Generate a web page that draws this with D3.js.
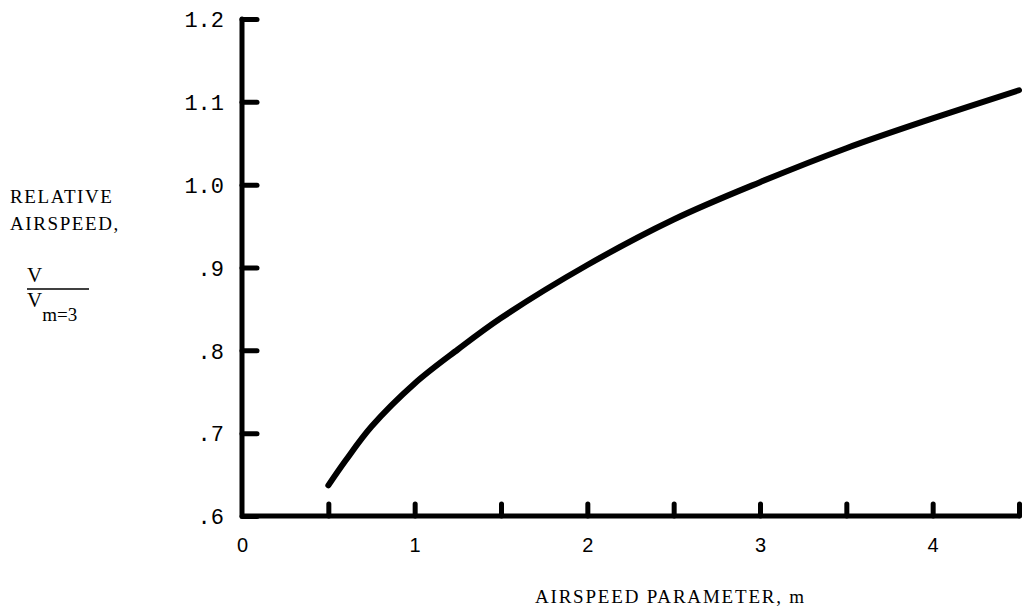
<!DOCTYPE html>
<html>
<head>
<meta charset="utf-8">
<script src="https://cdn.jsdelivr.net/npm/d3@7"></script>
<style>
  html, body { margin: 0; padding: 0; background: #fff; }
  svg { display: block; }
</style>
</head>
<body>
<svg id="chart" width="1031" height="612"></svg>
<script>
// ---- data ----
const airspeedParam = [0.5, 0.6, 0.75, 1.0, 1.25, 1.5, 2.0, 2.5, 3.0, 3.5, 4.0, 4.5];
const relativeAirspeed = [0.637, 0.667, 0.708, 0.760, 0.801, 0.839, 0.903, 0.958, 1.003, 1.044, 1.080, 1.114];
const yTickValues = [1.2, 1.1, 1.0, 0.9, 0.8, 0.7, 0.6];
const yTickLabels = ["1.2", "1.1", "1.0", ".9", ".8", ".7", ".6"];
const xTickValues = [0.5, 1.0, 1.5, 2.0, 2.5, 3.0, 3.5, 4.0, 4.5];
const xLabelValues = [0, 1, 2, 3, 4];
const xLabelTexts = ["0", "1", "2", "3", "4"];

const svg = d3.select("#chart");
const x = d3.scaleLinear().domain([0, 4.5]).range([242, 1019]);
const y = d3.scaleLinear().domain([0.6, 1.2]).range([516, 19]);

const mono = "'Liberation Mono', 'DejaVu Sans Mono', monospace";
const serif = "'Liberation Serif', 'DejaVu Serif', serif";
const sans = "'Liberation Sans', Arial, sans-serif";

// y axis
const yAxis = d3.axisLeft(y)
  .tickValues(yTickValues)
  .tickFormat((d, i) => yTickLabels[i])
  .tickSize(-15)
  .tickPadding(18);
const gy = svg.append("g").attr("transform", `translate(${x(0)},0)`).call(yAxis);
gy.select(".domain").remove();
gy.selectAll(".tick line").attr("stroke", "#000").attr("stroke-width", 5).attr("stroke-linecap", "round");
gy.selectAll(".tick text").attr("font-family", mono).attr("font-size", 22).attr("fill", "#000").attr("dy", "0.35em");

// x axis ticks (no labels)
const xAxis = d3.axisBottom(x)
  .tickValues(xTickValues)
  .tickFormat("")
  .tickSize(-12);
const gx = svg.append("g").attr("transform", `translate(0,${y(0.6)})`).call(xAxis);
gx.select(".domain").remove();
gx.selectAll(".tick line").attr("stroke", "#000").attr("stroke-width", 5).attr("stroke-linecap", "round");

// x labels
const xAxisLabels = d3.axisBottom(x)
  .tickValues(xLabelValues)
  .tickFormat((d, i) => xLabelTexts[i])
  .tickSize(0)
  .tickPadding(22);
const gxl = svg.append("g").attr("transform", `translate(0,${y(0.6)})`).call(xAxisLabels);
gxl.select(".domain").remove();
gxl.selectAll(".tick text").attr("font-family", sans).attr("font-size", 20).attr("fill", "#000");

// axis frame lines
svg.append("path")
  .attr("d", `M${x(0)},${y(1.2)} L${x(0)},${y(0.6)} L${x(4.5)},${y(0.6)}`)
  .attr("fill", "none").attr("stroke", "#000").attr("stroke-width", 5)
  .attr("stroke-linejoin", "round").attr("stroke-linecap", "round");

// curve
const pts = airspeedParam.map((m, i) => [m, relativeAirspeed[i]]);
const line = d3.line().x(d => x(d[0])).y(d => y(d[1])).curve(d3.curveCatmullRom.alpha(0.5));
svg.append("path")
  .datum(pts)
  .attr("d", line)
  .attr("fill", "none").attr("stroke", "#000").attr("stroke-width", 6)
  .attr("stroke-linecap", "round");

// y-axis title
const yt = svg.append("g").attr("font-family", serif).attr("font-size", 19).attr("fill", "#000");
yt.append("text").attr("x", 10).attr("y", 203).attr("letter-spacing", 1.6).text("RELATIVE");
yt.append("text").attr("x", 10).attr("y", 230).attr("letter-spacing", 1.6).text("AIRSPEED,");
yt.append("text").attr("x", 27).attr("y", 282).attr("font-size", 21).text("V");
svg.append("line").attr("x1", 27).attr("x2", 89).attr("y1", 289).attr("y2", 289)
  .attr("stroke", "#000").attr("stroke-width", 1.5);
const den = yt.append("text").attr("x", 27).attr("y", 307);
den.append("tspan").attr("font-size", 21).text("V");
den.append("tspan").attr("dy", 14).attr("font-size", 19).text("m=3");

// x-axis title
svg.append("text").attr("x", 535).attr("y", 603)
  .attr("font-family", serif).attr("font-size", 19).attr("letter-spacing", 1.8)
  .attr("fill", "#000").text("AIRSPEED PARAMETER, m");
</script>
</body>
</html>
